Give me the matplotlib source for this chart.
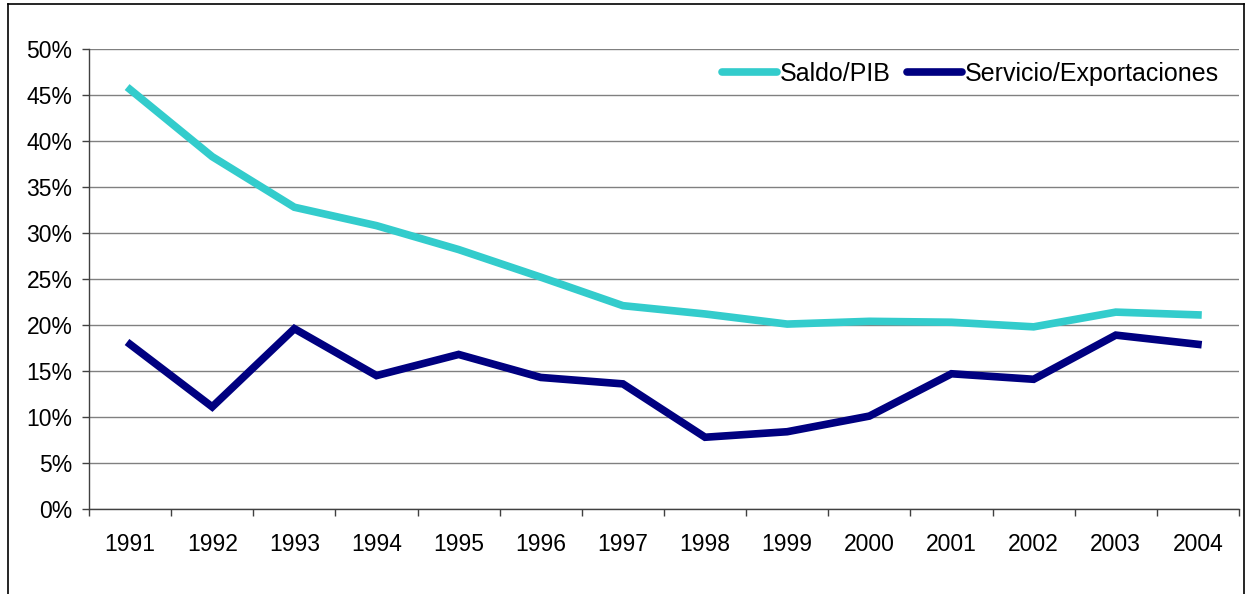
import numpy as np
import matplotlib.pyplot as plt
from matplotlib.lines import Line2D

plt.rcParams['font.family'] = ['Liberation Sans', 'DejaVu Sans']

years = ['1991', '1992', '1993', '1994', '1995', '1996', '1997',
         '1998', '1999', '2000', '2001', '2002', '2003', '2004']
saldo_pib = [45.6, 38.3, 32.8, 30.8, 28.2, 25.2, 22.1,
             21.2, 20.1, 20.4, 20.3, 19.8, 21.4, 21.1]
servicio_export = [17.9, 11.1, 19.6, 14.5, 16.8, 14.3, 13.6,
                   7.8, 8.4, 10.1, 14.7, 14.1, 18.9, 17.9]
y_ticks = [0, 5, 10, 15, 20, 25, 30, 35, 40, 45, 50]

W, H = 1246, 594
fig = plt.figure(figsize=(W / 100, H / 100), dpi=100)
ax = fig.add_axes([89 / W, 1 - 509 / H, (1239 - 89) / W, (509 - 49) / H])

x = np.arange(len(years))
ax.plot(x, saldo_pib, color='#33CCCC', lw=5.5, solid_joinstyle='miter',
        label='Saldo/PIB')
ax.plot(x, servicio_export, color='#000080', lw=5.5, solid_joinstyle='miter',
        label='Servicio/Exportaciones')

ax.set_xlim(-0.5, len(years) - 0.5)
ax.set_ylim(0, 50)

ax.set_yticks(y_ticks)
ax.set_yticklabels([f'{v}%' for v in y_ticks])
ax.yaxis.grid(True, color='#808080', lw=1)
ax.set_axisbelow(True)

ax.set_xticks(x)
ax.set_xticklabels(years)
ax.set_xticks(np.arange(-0.5, len(years)), minor=True)
ax.tick_params(axis='x', which='major', length=0, pad=17, labelsize=16.5)
ax.tick_params(axis='x', which='minor', length=5, width=1, color='#404040',
               direction='out')
ax.tick_params(axis='y', length=5, width=1, color='#404040', pad=7,
               labelsize=16.5)

for s in ['top', 'right']:
    ax.spines[s].set_visible(False)
for s in ['left', 'bottom']:
    ax.spines[s].set_color('#404040')
    ax.spines[s].set_linewidth(1)

leg = ax.legend(loc='center right', bbox_to_anchor=(1219 / W, 1 - 74 / H),
                bbox_transform=fig.transFigure, ncol=2, frameon=False,
                fontsize=18, handlelength=2.2, handletextpad=0.12,
                columnspacing=0.64, borderpad=0, borderaxespad=0)
for ln in leg.get_lines():
    ln.set_solid_capstyle('round')

# outer chart border
for xs, ys in [([8 / W, 8 / W], [0, 1 - 4 / H]),
               ([8 / W, 1244 / W], [1 - 4 / H, 1 - 4 / H]),
               ([1244 / W, 1244 / W], [0, 1 - 4 / H])]:
    fig.add_artist(Line2D(xs, ys, color='black', lw=1.2))

fig.savefig('out.png', dpi=100)
